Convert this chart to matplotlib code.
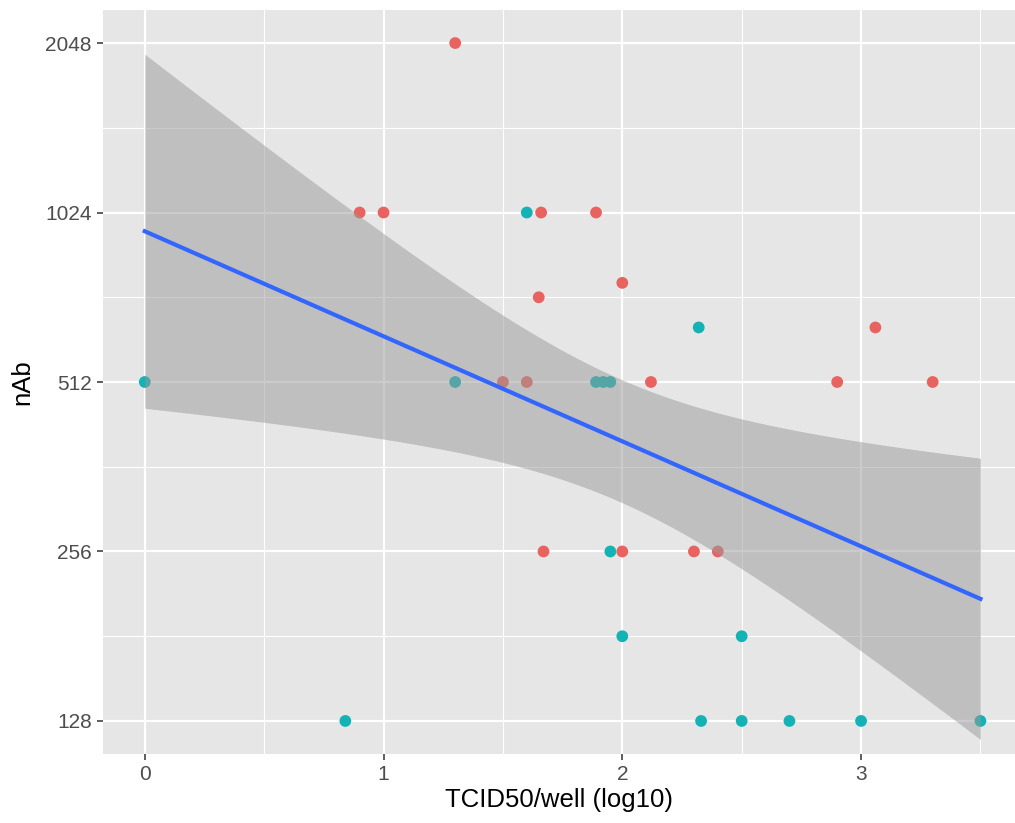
import numpy as np
import matplotlib.pyplot as plt
from matplotlib.ticker import FixedLocator, NullFormatter

# Data: x = TCID50/well (log10), y = nAb titre
red_x = [1.30, 0.90, 1.00, 1.66, 1.89, 1.65, 2.00, 3.06, 1.50, 1.60, 2.12, 2.90, 3.30,
         1.67, 2.00, 2.30, 2.40]
red_y = [2048, 1024, 1024, 1024, 1024, 724, 768, 640, 512, 512, 512, 512, 512,
         256, 256, 256, 256]
teal_x = [1.60, 2.32, 0.00, 1.30, 1.89, 1.92, 1.95, 1.95, 2.00, 2.50,
          0.84, 2.33, 2.50, 2.70, 3.00, 3.50]
teal_y = [1024, 640, 512, 512, 512, 512, 512, 256, 181, 181,
          128, 128, 128, 128, 128, 128]
y_ticks = [128, 256, 512, 1024, 2048]
x_ticks = [0, 1, 2, 3]

red = '#E8635F'
teal = '#13B3B5'

plt.rcParams['font.family'] = ['Liberation Sans', 'DejaVu Sans']

fig = plt.figure(figsize=(10.15, 8.23), dpi=100)
ax = fig.add_axes([103 / 1015, 69 / 823, 912 / 1015, 744 / 823])
ax.set_facecolor('#E6E6E6')

# points first, the smoother ribbon goes on top like in ggplot
ax.scatter(red_x, red_y, s=72, color=red, edgecolors='none', zorder=2)
ax.scatter(teal_x, teal_y, s=72, color=teal, edgecolors='none', zorder=2)

# linear fit on log2(y) with 95% confidence band
xs = np.array(red_x + teal_x)
ys = np.log2(np.array(red_y + teal_y))
n = len(xs)
slope, intercept = np.polyfit(xs, ys, 1)
resid = ys - (slope * xs + intercept)
s_err = np.sqrt(np.sum(resid ** 2) / (n - 2))
grid = np.linspace(xs.min(), xs.max(), 80)
fit = slope * grid + intercept
se = s_err * np.sqrt(1 / n + (grid - xs.mean()) ** 2 / np.sum((xs - xs.mean()) ** 2))
t_val = 2.03
ax.fill_between(grid, 2 ** (fit - t_val * se), 2 ** (fit + t_val * se),
                color='#999999', alpha=0.5, linewidth=0, zorder=3)
ax.plot(grid, 2 ** fit, color='#3366FF', linewidth=3, zorder=4)

ax.set_yscale('log', base=2)
ax.set_xlim(-0.175, (1015 - 145) / 238.7)
ax.set_ylim(2 ** 6.805, 2 ** 11.195)

ax.set_xticks(x_ticks)
ax.set_xticklabels([str(v) for v in x_ticks])
ax.set_yticks(y_ticks)
ax.set_yticklabels([str(v) for v in y_ticks])
ax.xaxis.set_minor_locator(FixedLocator([v + 0.5 for v in x_ticks]))
ax.yaxis.set_minor_locator(FixedLocator([v * np.sqrt(2) for v in y_ticks[:-1]]))
ax.yaxis.set_minor_formatter(NullFormatter())

ax.grid(which='major', color='white', linewidth=1.6, zorder=0)
ax.grid(which='minor', color='white', linewidth=0.8, zorder=0)
ax.set_axisbelow(True)
ax.tick_params(which='major', length=4, width=1.1, color='#333333',
               labelsize=15, labelcolor='#4D4D4D', pad=4)
ax.tick_params(which='minor', length=0)
for sp in ax.spines.values():
    sp.set_visible(False)

ax.set_xlabel('TCID50/well (log10)', fontsize=18.5, color='black', labelpad=3)
ax.set_ylabel('nAb', fontsize=18.5, color='black', labelpad=8)

fig.savefig('out.png', dpi=100)
